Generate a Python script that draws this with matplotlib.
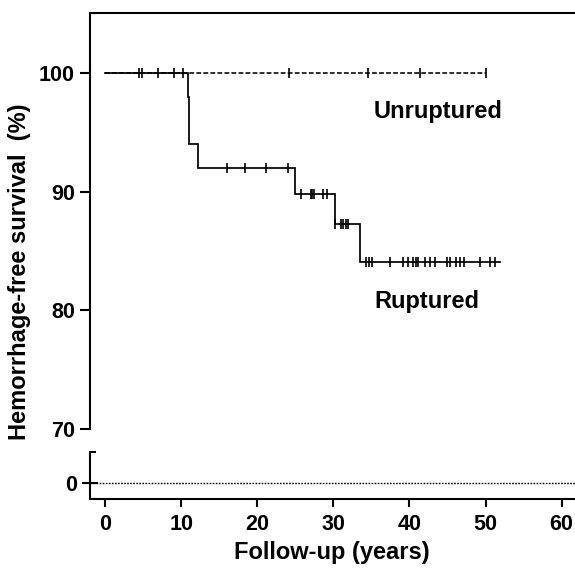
"""
plot.py

Kaplan-Meier style hemorrhage-free survival for ruptured vs unruptured
cases, drawn on a broken y axis (70-105 on top, a small band around 0 below).
"""
import numpy as np
import matplotlib
matplotlib.use('Agg')
import matplotlib.pyplot as plt


# === Data =====================================================================

# Ruptured group: event times (years) and survival (%) after each step
rup_event_times = [10.9, 11.0, 12.2, 24.9, 30.2, 33.45]
rup_survival = [100.0, 98.0, 94.0, 92.0, 89.8, 87.25, 84.1]
rup_end = 51.9
rup_censored = [16.05, 18.4, 21.2, 24.05,
                25.7, 27.0, 27.2, 27.4, 28.6, 29.1,
                30.25, 31.0, 31.3, 31.6, 31.9,
                34.3, 34.7, 35.1, 37.4, 39.15, 39.8, 40.5, 40.8, 41.1,
                42.1, 42.7, 43.4, 44.9, 45.3, 46.1, 46.7, 47.2, 49.3,
                50.6, 51.3]

# Unruptured group: no events, only censored follow-ups
unrup_survival = 100.0
unrup_end = 50.1
unrup_censored = [4.4, 4.8, 6.9, 9.0, 10.3, 24.15, 34.55, 41.4, 50.1]

x_ticks = [0, 10, 20, 30, 40, 50, 60]
y_ticks_top = [70, 80, 90, 100]
y_ticks_low = [0]


# === Helpers ==================================================================

def step_value(times, values, t):
    """Survival value of a right-continuous step curve at time t."""
    idx = np.searchsorted(times, t, side='right')
    return values[idx]


# === Plot =====================================================================

plt.rcParams['font.family'] = ['Liberation Sans', 'DejaVu Sans']
plt.rcParams['font.weight'] = 'bold'

fig = plt.figure(figsize=(5.75, 5.70), dpi=100)
ax_top = fig.add_axes([0.1557, 0.2474, 0.8443, 0.7303])
ax_low = fig.add_axes([0.1557, 0.1246, 0.8443, 0.0825])

xlim = (-2.05, 61.76)
spine_lw = 1.5
tick_fs = 15.5
label_fs = 17
mark_kw = dict(linestyle='none', marker='|', markersize=7,
               markeredgewidth=1.2, color='black', zorder=4)

# ruptured step curve
rup_x = [0.0] + rup_event_times + [rup_end]
rup_y = rup_survival + [rup_survival[-1]]
ax_top.plot(rup_x, rup_y, drawstyle='steps-post', color='black', lw=1.25,
            solid_joinstyle='miter', zorder=3)
rup_cens_y = [step_value(rup_event_times, rup_survival, t) for t in rup_censored]
ax_top.plot(rup_censored, rup_cens_y, **mark_kw)

# unruptured flat dashed line
ax_top.plot([0.0, unrup_end], [unrup_survival, unrup_survival], color='black',
            lw=1.15, dashes=(3.0, 1.4), zorder=3)
ax_top.plot(unrup_censored, [unrup_survival] * len(unrup_censored), **mark_kw)

ax_top.text(43.7, 96.74, 'Unruptured', ha='center', va='center',
            fontsize=label_fs, fontweight='bold')
ax_top.text(42.3, 80.73, 'Ruptured', ha='center', va='center',
            fontsize=label_fs, fontweight='bold')

ax_top.set_xlim(*xlim)
ax_top.set_ylim(70, 105.1)
ax_top.set_yticks(y_ticks_top)
ax_top.set_yticks([70], minor=True)
ax_top.set_xticks([])
ax_top.spines['bottom'].set_visible(False)
ax_top.spines['right'].set_visible(False)
ax_top.spines['left'].set_linewidth(spine_lw)
ax_top.spines['top'].set_linewidth(spine_lw)
ax_top.tick_params(axis='y', which='major', direction='out', length=7,
                   width=spine_lw, labelsize=tick_fs, pad=3.5)
ax_top.tick_params(axis='y', which='minor', direction='in', length=4.5,
                   width=spine_lw)

# lower band: the zero line
low_ylim = (-3.4, 6.6)
ax_low.axhline(0, color='black', lw=1.0, dashes=(1.2, 1.0))
ax_low.set_xlim(*xlim)
ax_low.set_ylim(*low_ylim)
ax_low.set_yticks(y_ticks_low)
ax_low.set_yticks([low_ylim[1]], minor=True)
ax_low.set_xticks(x_ticks)
ax_low.spines['top'].set_visible(False)
ax_low.spines['right'].set_visible(False)
ax_low.spines['left'].set_linewidth(spine_lw)
ax_low.spines['bottom'].set_linewidth(spine_lw)
ax_low.tick_params(axis='y', which='major', direction='inout', length=11,
                   width=spine_lw, labelsize=tick_fs, pad=3.5)
ax_low.tick_params(axis='y', which='minor', direction='in', length=4.5,
                   width=spine_lw)
ax_low.tick_params(axis='x', direction='out', length=6, width=spine_lw,
                   labelsize=tick_fs, pad=5)
ax_low.set_xlabel('Follow-up (years)', fontsize=label_fs, fontweight='bold',
                  labelpad=4)

fig.text(20 / 575, 1 - 271.5 / 570, 'Hemorrhage-free survival  (%)',
         rotation=90, ha='center', va='center', fontsize=label_fs,
         fontweight='bold')

fig.savefig('out.png', dpi=100)
plt.close(fig)
